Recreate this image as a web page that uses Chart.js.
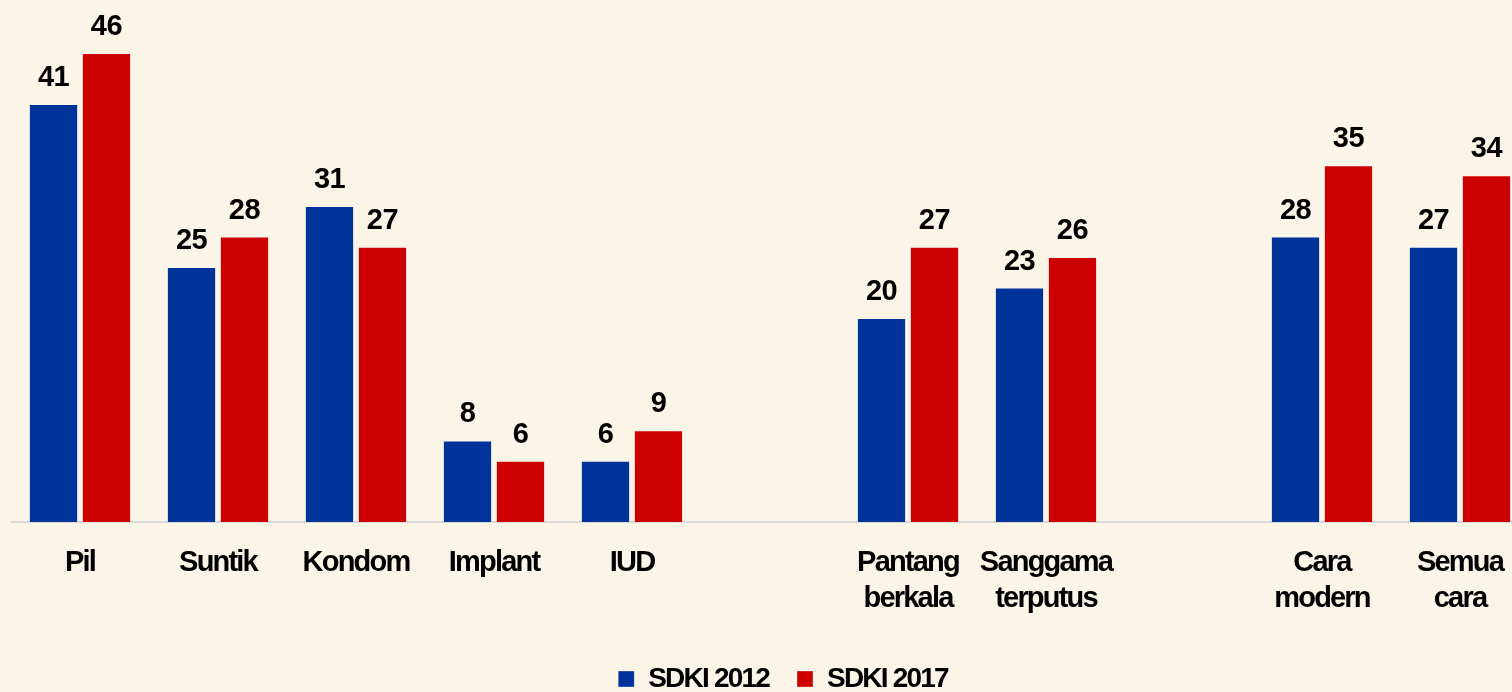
<!DOCTYPE html>
<html>
<head>
<meta charset="utf-8">
<script src="https://cdn.jsdelivr.net/npm/chart.js@4.4.1/dist/chart.umd.min.js"></script>
<style>
  html, body { margin: 0; padding: 0; background: #fbf5e8; overflow: hidden; }
  #wrap { position: relative; width: 1570px; height: 710px; }
</style>
</head>
<body>
<div id="wrap"><canvas id="chart"></canvas></div>
<script>
// categories (empty strings are the gaps between groups)
const categories = [
    'Pil', 'Suntik', 'Kondom', 'Implant', 'IUD', '',
    ['Pantang', 'berkala'], ['Sanggama', 'terputus'], '',
    ['Cara', 'modern'], ['Semua', 'cara']
];
const sdki2012 = [41, 25, 31, 8, 6, null, 20, 23, null, 28, 27];
const sdki2017 = [46, 28, 27, 6, 9, null, 27, 26, null, 35, 34];
const seriesNames = ['SDKI 2012', 'SDKI 2017'];

const FONT = "'Liberation Sans', Arial, sans-serif";

// tight tracking like the original (condensed text)
const tightText = {
    id: 'tightText',
    beforeLayout(chart) { chart.ctx.letterSpacing = '-1.8px'; },
    beforeDraw(chart) { chart.ctx.letterSpacing = '-1.8px'; },
    afterLayout(chart) {
        // legend sits a little right of the plot centre in the original
        chart.legend.left += 13;
        chart.legend.right += 13;
    }
};

// draws the value above each bar
const valueLabels = {
    id: 'valueLabels',
    afterDatasetsDraw(chart) {
        const ctx = chart.ctx;
        ctx.save();
        ctx.letterSpacing = '-0.5px';
        ctx.font = `bold 29px ${FONT}`;
        ctx.fillStyle = '#000';
        ctx.textAlign = 'center';
        ctx.textBaseline = 'alphabetic';
        chart.data.datasets.forEach((ds, i) => {
            const meta = chart.getDatasetMeta(i);
            meta.data.forEach((bar, j) => {
                const v = ds.data[j];
                if (v === null || v === undefined) return;
                ctx.fillText(String(v), bar.x, bar.y - 18);
            });
        });
        ctx.restore();
    }
};

new Chart(document.getElementById('chart'), {
    type: 'bar',
    data: {
        labels: categories,
        datasets: [
            {
                label: seriesNames[0],
                data: sdki2012,
                backgroundColor: '#003399',
                borderColor: 'rgba(255,255,255,0.3)',
                borderWidth: 1,
                borderSkipped: 'bottom'
            },
            {
                label: seriesNames[1],
                data: sdki2017,
                backgroundColor: '#cc0000',
                borderColor: 'rgba(255,255,255,0.3)',
                borderWidth: 1,
                borderSkipped: 'bottom'
            }
        ]
    },
    options: {
        responsive: true,
        maintainAspectRatio: false,
        animation: false,
        categoryPercentage: 0.768,
        barPercentage: 0.93,
        layout: {
            padding: { left: 11, right: 41, top: 0, bottom: 7 }
        },
        plugins: {
            legend: {
                position: 'bottom',
                labels: {
                    color: '#000',
                    font: { family: FONT, size: 28, weight: 'bold' },
                    boxWidth: 16,
                    boxHeight: 16,
                    padding: 28
                }
            },
            tooltip: { enabled: false }
        },
        scales: {
            x: {
                grid: { display: false, drawTicks: false },
                border: { color: '#d9d9d9', width: 2 },
                ticks: {
                    color: '#000',
                    font: { family: FONT, size: 29, weight: 'bold', lineHeight: '36px' },
                    padding: 23,
                    maxRotation: 0,
                    autoSkip: false
                },
                afterFit(scale) { scale.height = 115; }
            },
            y: {
                display: false,
                min: 0,
                max: 51.2
            }
        }
    },
    plugins: [tightText, valueLabels]
});
</script>
</body>
</html>
